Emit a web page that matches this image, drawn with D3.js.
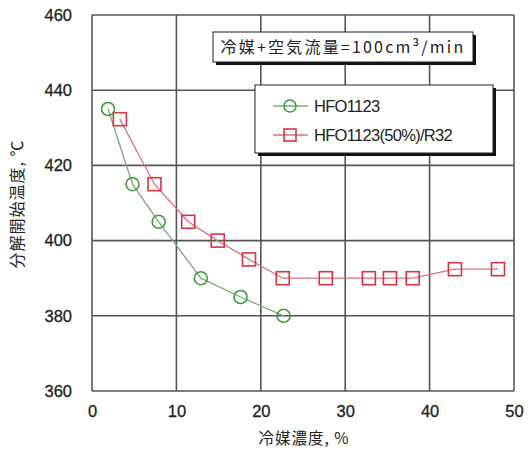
<!DOCTYPE html>
<html><head><meta charset="utf-8">
<script src="https://cdn.jsdelivr.net/npm/d3@7"></script>
<style>body{margin:0;background:#fff}svg{display:block}</style>
</head><body>
<svg id="c" width="532" height="455"></svg>
<script>
const xTicks = [0,10,20,30,40,50];
const yTicks = [360,380,400,420,440,460];
const hfoX = [1.9,4.8,7.9,12.9,17.6,22.7];
const hfoY = [435,415,405,390,385,380];
const mixX = [3.3,7.4,11.4,14.9,18.6,22.6,27.7,32.8,35.3,38.0,43.0,48.1];
const mixY = [432.3,415,405,400,395,390,390,390,390,390,392.4,392.4];
const seriesNames = ["HFO1123","HFO1123(50%)/R32"];
const titleText = "冷媒+空気流量=100cm³/min";
const xLabel = "冷媒濃度, %";
const yLabel = "分解開始温度, ℃";

const svg = d3.select("#c");
const m = {l:92, r:514, t:15, b:391};
const x = d3.scaleLinear().domain([0,50]).range([m.l,m.r]);
const y = d3.scaleLinear().domain([360,460]).range([m.b,m.t]);
const font = "'Liberation Sans', Arial, sans-serif";
const jfont = "'Noto Sans CJK JP', sans-serif";
const grid = "#555";

// grid
svg.append("g").selectAll("line.v").data(xTicks).join("line")
  .attr("x1",d=>x(d)).attr("x2",d=>x(d)).attr("y1",m.t).attr("y2",m.b)
  .attr("stroke",grid).attr("stroke-width",1.6);
svg.append("g").selectAll("line.h").data(yTicks).join("line")
  .attr("x1",m.l).attr("x2",m.r).attr("y1",d=>y(d)).attr("y2",d=>y(d))
  .attr("stroke",grid).attr("stroke-width",1.6);

// axes labels
const xa = svg.append("g").attr("transform",`translate(0,${m.b})`)
  .call(d3.axisBottom(x).tickValues(xTicks).tickSize(0).tickPadding(14));
xa.select(".domain").remove();
xa.selectAll("text").attr("font-family",font).attr("font-size",16.5).attr("fill","#222")
  .attr("stroke","#222").attr("stroke-width",0.3);
const ya = svg.append("g").attr("transform",`translate(${m.l},0)`)
  .call(d3.axisLeft(y).tickValues(yTicks).tickSize(0).tickPadding(20));
ya.select(".domain").remove();
ya.selectAll("text").attr("font-family",font).attr("font-size",16.5).attr("fill","#222")
  .attr("stroke","#222").attr("stroke-width",0.3);

svg.append("text").attr("x",304).attr("y",444).attr("text-anchor","middle")
  .attr("font-family",jfont).attr("font-size",15.5).attr("letter-spacing",1).attr("fill","#222").text(xLabel);
svg.append("text").attr("transform","translate(23,204) rotate(-90)").attr("text-anchor","middle")
  .attr("font-family",jfont).attr("font-size",16).attr("letter-spacing",1).attr("fill","#222").text(yLabel);

// series
const hfo = hfoX.map((v,i)=>[v,hfoY[i]]);
const mix = mixX.map((v,i)=>[v,mixY[i]]);
const line = d3.line().x(d=>x(d[0])).y(d=>y(d[1]));
const gCol = "#3f9a3f", gLine="#7aaa7a", rCol="#d8333f", rLine="#e0707a";
svg.append("path").attr("d",line(hfo)).attr("fill","none").attr("stroke",gLine).attr("stroke-width",1.3);
svg.append("path").attr("d",line(mix)).attr("fill","none").attr("stroke",rLine).attr("stroke-width",1.3);
svg.append("g").selectAll("rect").data(mix).join("rect")
  .attr("x",d=>x(d[0])-6.5).attr("y",d=>y(d[1])-6.5).attr("width",13).attr("height",13)
  .attr("fill","none").attr("stroke",rCol).attr("stroke-width",1.6);
svg.append("g").selectAll("circle").data(hfo).join("circle")
  .attr("cx",d=>x(d[0])).attr("cy",d=>y(d[1])).attr("r",6.5)
  .attr("fill","none").attr("stroke",gCol).attr("stroke-width",1.6);

// title box
svg.append("rect").attr("x",216).attr("y",35).attr("width",260).attr("height",30).attr("fill","#111");
svg.append("rect").attr("x",213).attr("y",32).attr("width",260).attr("height",30).attr("fill","#fff").attr("stroke","#222").attr("stroke-width",1);
svg.append("text").attr("x",343).attr("y",53).attr("text-anchor","middle")
  .attr("font-family",jfont).attr("font-size",16).attr("letter-spacing",2.2).attr("fill","#222").text(titleText);

// legend
svg.append("rect").attr("x",258).attr("y",88).attr("width",238).attr("height",68).attr("fill","#111");
svg.append("rect").attr("x",255).attr("y",85).attr("width",238).attr("height",68).attr("fill","#fff").attr("stroke","#222").attr("stroke-width",1);
const lg = [{n:seriesNames[0],c:gCol,l:gLine,s:"c",y:106},{n:seriesNames[1],c:rCol,l:rLine,s:"r",y:135}];
lg.forEach(e=>{
  svg.append("line").attr("x1",273).attr("x2",308).attr("y1",e.y).attr("y2",e.y).attr("stroke",e.l).attr("stroke-width",1.3);
  if(e.s==="c") svg.append("circle").attr("cx",290).attr("cy",e.y).attr("r",6).attr("fill","none").attr("stroke",e.c).attr("stroke-width",1.6);
  else svg.append("rect").attr("x",284).attr("y",e.y-6).attr("width",12).attr("height",12).attr("fill","none").attr("stroke",e.c).attr("stroke-width",1.6);
  svg.append("text").attr("x",314).attr("y",e.y+5.5).attr("font-family",font).attr("font-size",16.5)
    .attr("letter-spacing",-0.7).attr("fill","#222").text(e.n);
});
</script>
</body></html>
